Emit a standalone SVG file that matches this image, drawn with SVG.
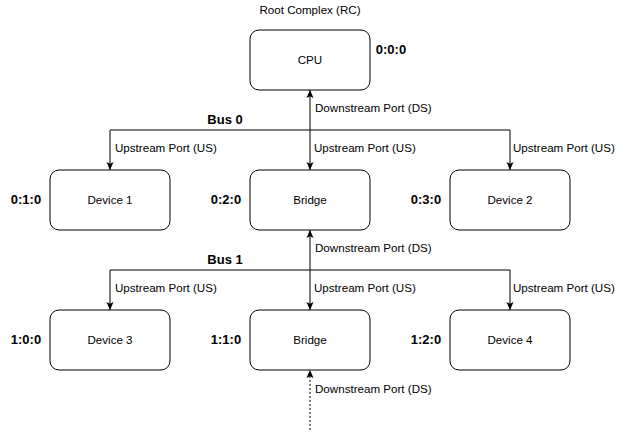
<svg xmlns="http://www.w3.org/2000/svg" width="626" height="439" viewBox="0 0 626 439">
<style>
.box{fill:#fff;stroke:#000;stroke-width:1}
.t{font-family:"Liberation Sans",Arial,sans-serif;font-size:11.6px;fill:#000}
.c{text-anchor:middle}
.b{font-family:"Liberation Sans",Arial,sans-serif;font-size:13px;font-weight:bold;fill:#000;text-anchor:middle}
.ln{fill:none;stroke:#000;stroke-width:1}
</style>
<defs>
<marker id="ar" viewBox="0 0 8 8" refX="8" refY="4" markerWidth="8" markerHeight="8" markerUnits="userSpaceOnUse" orient="auto-start-reverse">
<path d="M0,0.5 L8,4 L0,7.5 L1.8,4 z" fill="#000"/>
</marker>
</defs>
<rect width="626" height="439" fill="#fff"/>
<g id="connectors">
<path class="ln" d="M310,90 V170" marker-start="url(#ar)" marker-end="url(#ar)"/>
<path class="ln" d="M110,170 V130 H510 V170" marker-start="url(#ar)" marker-end="url(#ar)"/>
<path class="ln" d="M310,230 V310" marker-start="url(#ar)" marker-end="url(#ar)"/>
<path class="ln" d="M110,310 V270 H510 V310" marker-start="url(#ar)" marker-end="url(#ar)"/>
<path class="ln" d="M310,430 V370" stroke-dasharray="2,2" marker-end="url(#ar)"/>
<text class="t" x="315" y="112">Downstream Port (DS)</text>
<text class="t" x="115" y="152">Upstream Port (US)</text>
<text class="t" x="314" y="152">Upstream Port (US)</text>
<text class="t" x="513" y="152">Upstream Port (US)</text>
<text class="b" x="225" y="124">Bus 0</text>
<text class="t" x="315" y="252">Downstream Port (DS)</text>
<text class="t" x="115" y="292">Upstream Port (US)</text>
<text class="t" x="314" y="292">Upstream Port (US)</text>
<text class="t" x="513" y="292">Upstream Port (US)</text>
<text class="b" x="225" y="264">Bus 1</text>
<text class="t" x="315" y="393">Downstream Port (DS)</text>
</g>
<g id="cpu">
<text class="t c" x="310" y="14">Root Complex (RC)</text>
<rect class="box" x="250" y="30" width="120" height="60" rx="9"/>
<text class="t c" x="310" y="64">CPU</text>
<text class="b" x="391" y="54">0:0:0</text>
</g>
<g id="device1">
<rect class="box" x="50" y="170" width="120" height="60" rx="9"/>
<text class="t c" x="110" y="204">Device 1</text>
<text class="b" x="26" y="204">0:1:0</text>
</g>
<g id="bridge0">
<rect class="box" x="250" y="170" width="120" height="60" rx="9"/>
<text class="t c" x="310" y="204">Bridge</text>
<text class="b" x="226" y="204">0:2:0</text>
</g>
<g id="device2">
<rect class="box" x="450" y="170" width="120" height="60" rx="9"/>
<text class="t c" x="510" y="204">Device 2</text>
<text class="b" x="426" y="204">0:3:0</text>
</g>
<g id="device3">
<rect class="box" x="50" y="310" width="120" height="60" rx="9"/>
<text class="t c" x="110" y="344">Device 3</text>
<text class="b" x="26" y="344">1:0:0</text>
</g>
<g id="bridge1">
<rect class="box" x="250" y="310" width="120" height="60" rx="9"/>
<text class="t c" x="310" y="344">Bridge</text>
<text class="b" x="226" y="344">1:1:0</text>
</g>
<g id="device4">
<rect class="box" x="450" y="310" width="120" height="60" rx="9"/>
<text class="t c" x="510" y="344">Device 4</text>
<text class="b" x="426" y="344">1:2:0</text>
</g>
</svg>
